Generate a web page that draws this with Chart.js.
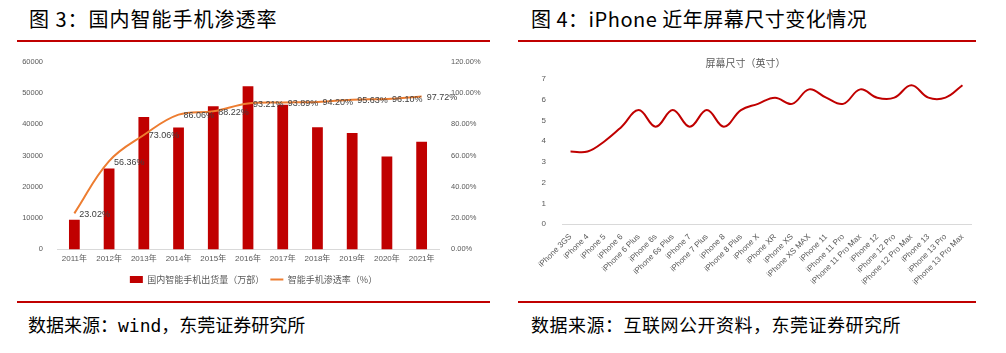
<!DOCTYPE html>
<html>
<head>
<meta charset="utf-8">
<script src="https://cdn.jsdelivr.net/npm/chart.js@4.4.0/dist/chart.umd.min.js"></script>
<style>
  body { margin: 0; width: 1006px; height: 353px; background: #fff; position: relative; overflow: hidden;
         font-family: "Noto Sans CJK SC", sans-serif; }
  .title { position: absolute; font-size: 20px; line-height: 20px; color: #000; white-space: nowrap; }
  .rule { position: absolute; height: 2px; background: #C00000; }
  .src { position: absolute; font-size: 18px; line-height: 18px; color: #000; white-space: nowrap; }
  .box { position: absolute; }
</style>
</head>
<body>
<div class="title" style="left:29px;top:9px;letter-spacing:1px">图 3：国内智能手机渗透率</div>
<div class="rule" style="left:17px;top:40px;width:473px"></div>
<div class="box" style="left:17px;top:51px;width:473px;height:243px"><canvas id="penChart"></canvas></div>
<div class="rule" style="left:17px;top:301px;width:473px"></div>
<div class="src" style="left:28px;top:315px">数据来源：<span style="font-family:'DejaVu Sans Mono',monospace">wind</span>，东莞证券研究所</div>

<div class="title" style="left:531px;top:9px;letter-spacing:0.5px">图 4：iPhone 近年屏幕尺寸变化情况</div>
<div class="rule" style="left:518px;top:40px;width:458px"></div>
<div class="box" style="left:520px;top:53px;width:456px;height:234px"><canvas id="sizeChart"></canvas></div>
<div class="rule" style="left:518px;top:301px;width:458px"></div>
<div class="src" style="left:531px;top:315px;letter-spacing:0.5px">数据来源：互联网公开资料，东莞证券研究所</div>

<script>
// 图3 数据
const years = ['2011年', '2012年', '2013年', '2014年', '2015年', '2016年', '2017年', '2018年', '2019年', '2020年', '2021年'];
const shipments = [9500, 25800, 42300, 38900, 45700, 52100, 46200, 39000, 37200, 29700, 34400];
const penetration = [23.02, 56.36, 73.06, 86.06, 88.22, 93.21, 93.89, 94.20, 95.63, 96.10, 97.72];

// 图4 数据
const models = ['iPhone 3GS', 'iPhone 4', 'iPhone 5', 'iPhone 6', 'iPhone 6 Plus', 'iPhone 6s', 'iPhone 6s Plus',
  'iPhone 7', 'iPhone 7 Plus', 'iPhone 8', 'iPhone 8 Plus', 'iPhone X', 'iPhone XR', 'iPhone XS', 'iPhone XS MAX',
  'iPhone 11', 'iPhone 11 Pro', 'iPhone 11 Pro Max', 'iPhone 12', 'iPhone 12 Pro', 'iPhone 12 Pro Max',
  'iPhone 13', 'iPhone 13 Pro', 'iPhone 13 Pro Max'];
const screenSizes = [3.5, 3.5, 4.0, 4.7, 5.5, 4.7, 5.5, 4.7, 5.5, 4.7, 5.5, 5.8, 6.1, 5.8, 6.5,
  6.1, 5.8, 6.5, 6.1, 6.1, 6.7, 6.1, 6.1, 6.7];

const tickFont = { family: '"Liberation Sans", "Noto Sans CJK SC", sans-serif', size: 7.5 };
const tickColor = '#595959';

// 折线上的百分比标签
const pctLabels = {
  id: 'pctLabels',
  afterDatasetsDraw(chart) {
    const meta = chart.getDatasetMeta(1);
    const ctx = chart.ctx;
    ctx.save();
    ctx.font = '9px "Liberation Sans", sans-serif';
    ctx.fillStyle = '#404040';
    ctx.textBaseline = 'middle';
    meta.data.forEach((pt, i) => {
      ctx.fillText(penetration[i].toFixed(2) + '%', pt.x + 5, pt.y + 1);
    });
    ctx.restore();
  }
};

new Chart(document.getElementById('penChart'), {
  data: {
    labels: years,
    datasets: [{
      type: 'bar',
      label: '国内智能手机出货量（万部）',
      data: shipments,
      backgroundColor: '#C00000',
      barPercentage: 0.62,
      categoryPercentage: 0.5,
      yAxisID: 'y',
      order: 2,
      pointStyle: 'rect'
    }, {
      type: 'line',
      label: '智能手机渗透率（%）',
      data: penetration,
      borderColor: '#ED7D31',
      backgroundColor: '#ED7D31',
      borderWidth: 2,
      tension: 0.4,
      pointRadius: 0,
      yAxisID: 'y1',
      order: 1,
      pointStyle: 'line'
    }]
  },
  options: {
    responsive: true,
    maintainAspectRatio: false,
    animation: false,
    plugins: {
      tooltip: { enabled: false },
      legend: {
        position: 'bottom',
        labels: {
          usePointStyle: true,
          pointStyleWidth: 13,
          boxHeight: 7,
          padding: 6,
          color: '#595959',
          font: { family: '"Noto Sans CJK SC", sans-serif', size: 9 },
          sort: (a, b) => a.datasetIndex - b.datasetIndex
        }
      }
    },
    scales: {
      x: {
        grid: { display: false, drawTicks: false },
        border: { color: '#D9D9D9' },
        ticks: { color: tickColor, font: { family: tickFont.family, size: 8 }, maxRotation: 0, padding: 5 }
      },
      y: {
        position: 'left',
        min: 0, max: 60000,
        grid: { display: false },
        border: { display: false },
        ticks: { stepSize: 10000, color: tickColor, font: tickFont, padding: 6, callback: (v) => String(v) },
        afterFit: (s) => { s.width = 40; }
      },
      y1: {
        position: 'right',
        min: 0, max: 120,
        grid: { display: false },
        border: { display: false },
        ticks: { stepSize: 20, color: tickColor, font: tickFont, padding: 4,
                 callback: (v) => v.toFixed(2) + '%' },
        afterFit: (s) => { s.width = 51; }
      }
    }
  },
  plugins: [pctLabels]
});

new Chart(document.getElementById('sizeChart'), {
  type: 'line',
  data: {
    labels: models,
    datasets: [{
      label: '屏幕尺寸（英寸）',
      data: screenSizes,
      borderColor: '#C00000',
      borderWidth: 2,
      tension: 0.4,
      pointRadius: 0,
      fill: false
    }]
  },
  options: {
    responsive: true,
    maintainAspectRatio: false,
    animation: false,
    layout: { padding: { right: 5 } },
    plugins: {
      tooltip: { enabled: false },
      legend: { display: false },
      title: {
        display: true,
        text: '屏幕尺寸（英寸）',
        color: '#595959',
        font: { family: '"Noto Sans CJK SC", sans-serif', size: 10, weight: 'normal' },
        padding: { top: 4, bottom: 10 }
      }
    },
    scales: {
      x: {
        offset: true,
        grid: { display: false },
        border: { color: '#D9D9D9' },
        ticks: { autoSkip: false, maxRotation: 45, minRotation: 45, color: tickColor,
                 font: { family: tickFont.family, size: 8 }, padding: 0 }
      },
      y: {
        min: 0, max: 7,
        grid: { display: false },
        border: { display: false },
        ticks: { stepSize: 1, color: tickColor, font: { family: tickFont.family, size: 8 }, padding: 8 },
        afterFit: (s) => { s.width = 42; }
      }
    }
  }
});
</script>
</body>
</html>
